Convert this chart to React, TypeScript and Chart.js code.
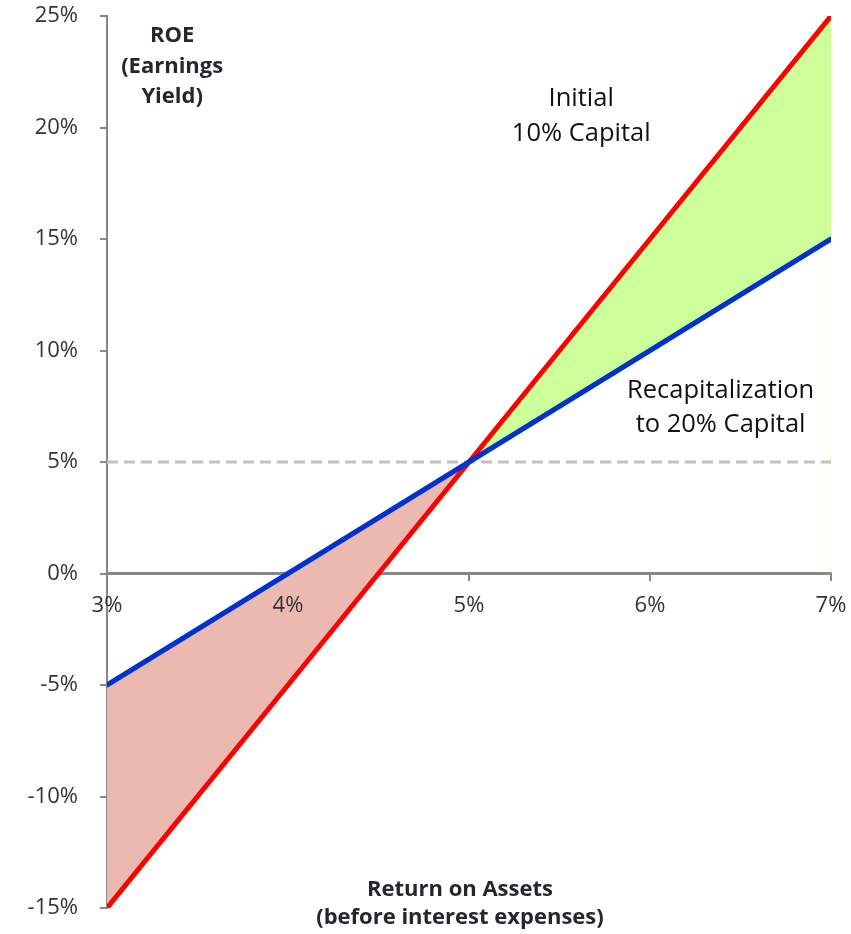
import React, { useEffect, useRef } from "react";
import { Chart, registerables } from "chart.js";

Chart.register(...registerables);

const roa = [3, 4, 5, 6, 7];
const initialCapital = [-15, -5, 5, 15, 25];
const recapCapital = [-5, 0, 5, 10, 15];
const referenceLevel = [5, 5, 5, 5, 5];
const edgeRoa = [7, 7];
const edgeRoe = [0, 25];
const xTicks = [3, 4, 5, 6, 7];
const yTicks = [-15, -10, -5, 0, 5, 10, 15, 20, 25];

const FONT = "'Open Sans', sans-serif";

const textPlugin = {
  id: "texts",
  afterDraw(chart: any) {
    const ctx = chart.ctx;
    const xs = chart.scales.x;
    const ys = chart.scales.y;
    const draw = (lines: string[], xv: number, yv: number, lh: number, font: string, color: string) => {
      ctx.save();
      ctx.font = font;
      ctx.fillStyle = color;
      ctx.textAlign = "center";
      ctx.textBaseline = "middle";
      const x = xs.getPixelForValue(xv);
      const y0 = ys.getPixelForValue(yv);
      lines.forEach((l, i) => ctx.fillText(l, x, y0 + i * lh));
      ctx.restore();
    };
    draw(["ROE", "(Earnings", "Yield)"], 3.36, 24.1, 30.5, `bold 22px ${FONT}`, "#262630");
    draw(["Initial", "10% Capital"], 5.62, 21.3, 35, `25.5px ${FONT}`, "#111111");
    draw(["Recapitalization", "to 20% Capital"], 6.39, 8.2, 34, `25.5px ${FONT}`, "#111111");
    draw(["Return on Assets", "(before interest expenses)"], 4.95, -14.2, 28, `bold 22px ${FONT}`, "#262630");
  },
};

const noPadding = (s: any) => {
  s.paddingLeft = 0;
  s.paddingRight = 0;
  s.paddingTop = 0;
  s.paddingBottom = 0;
};

export default function App() {
  const ref = useRef<HTMLCanvasElement>(null);
  useEffect(() => {
    if (!ref.current) return;
    const chart = new Chart(ref.current, {
      type: "line",
      data: {
        datasets: [
          {
            label: "Initial 10% Capital",
            data: roa.map((x, i) => ({ x, y: initialCapital[i] })),
            borderColor: "#ff0000",
            borderWidth: 5,
            borderCapStyle: "round",
            pointRadius: 0,
            fill: { target: 1, above: "#ccff99", below: "#ebb9b0" },
            order: 1,
          },
          {
            label: "Recapitalization to 20% Capital",
            data: roa.map((x, i) => ({ x, y: recapCapital[i] })),
            borderColor: "#0033cc",
            borderWidth: 5,
            borderCapStyle: "round",
            pointRadius: 0,
            fill: false,
            order: 0,
          },
          {
            label: "5%",
            data: roa.map((x, i) => ({ x, y: referenceLevel[i] })),
            borderColor: "#c0c0c0",
            borderWidth: 3,
            borderDash: [11, 6],
            pointRadius: 0,
            fill: false,
            order: 2,
          },
          {
            label: "edge",
            data: edgeRoa.map((x, i) => ({ x, y: edgeRoe[i] })),
            borderColor: "#e6f3c4",
            borderWidth: 1,
            pointRadius: 0,
            fill: false,
            order: 3,
          },
        ],
      },
      options: {
        responsive: false,
        animation: false,
        layout: { padding: { top: 16, right: 20, bottom: 26, left: 0 } },
        plugins: { legend: { display: false }, tooltip: { enabled: false } },
        scales: {
          x: {
            type: "linear",
            position: { y: 0 } as any,
            min: 3,
            max: 7,
            afterBuildTicks: (s: any) => {
              s.ticks = xTicks.map((v) => ({ value: v }));
            },
            afterFit: noPadding,
            ticks: {
              callback: (v: any) => v + "%",
              font: { family: FONT, size: 22 },
              color: "#333333",
              padding: 13,
              maxRotation: 0,
              autoSkip: false,
              z: 1,
            },
            grid: {
              drawOnChartArea: false,
              drawTicks: true,
              tickLength: 6,
              color: "#888888",
              lineWidth: 2,
            },
            border: { display: true, color: "#888888", width: 3 },
          },
          y: {
            type: "linear",
            min: -15,
            max: 25,
            afterBuildTicks: (s: any) => {
              s.ticks = yTicks.map((v) => ({ value: v }));
            },
            afterFit: (s: any) => {
              s.width = 107;
              noPadding(s);
            },
            ticks: {
              callback: (v: any) => v + "%",
              font: { family: FONT, size: 22 },
              color: "#333333",
              padding: 22,
              autoSkip: false,
            },
            grid: {
              drawOnChartArea: false,
              drawTicks: true,
              tickLength: 7,
              color: "#888888",
              lineWidth: 2,
            },
            border: { display: true, color: "#888888", width: 2 },
          },
        },
      },
      plugins: [textPlugin],
    } as any);
    return () => chart.destroy();
  }, []);
  return (
    <div style={{ position: "absolute", left: 0, top: 0, width: 851, height: 934, background: "#fff" }}>
      <canvas ref={ref} width={851} height={934} style={{ width: 851, height: 934 }} />
    </div>
  );
}
